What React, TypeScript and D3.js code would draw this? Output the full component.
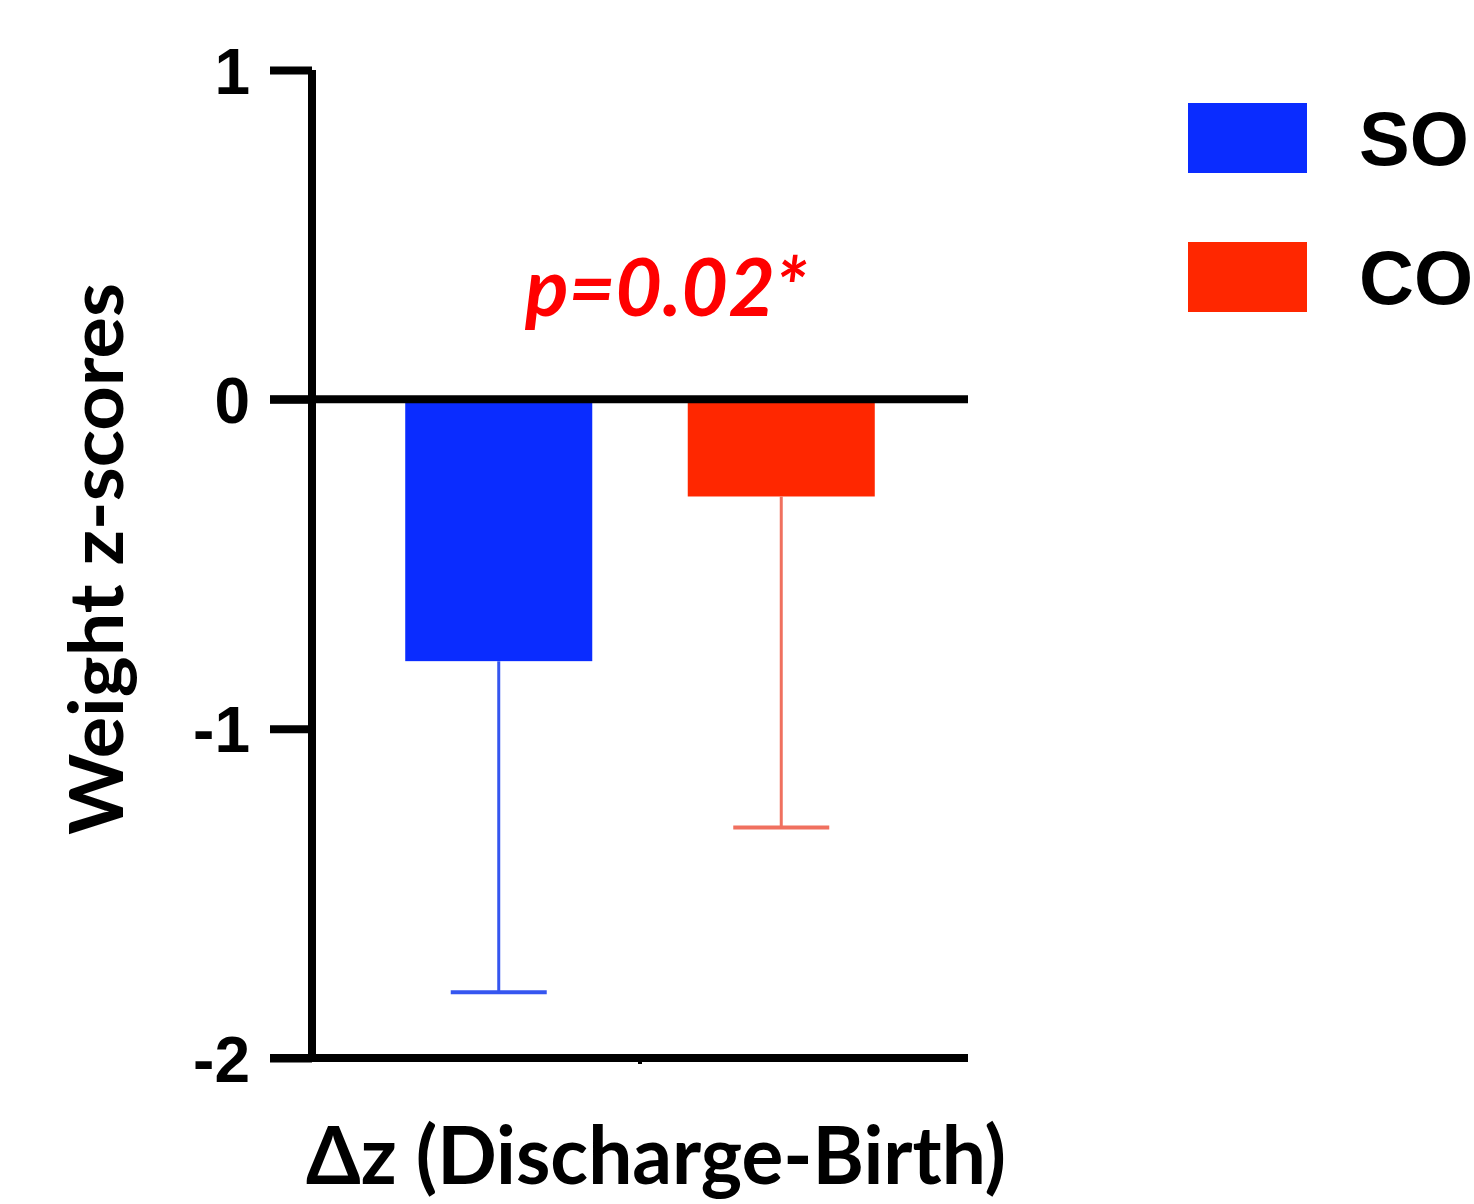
import React, { useEffect, useRef } from 'react';
import * as d3 from 'd3';

const width = 1474;
const height = 1204;

// data
const groups = ['SO', 'CO'];
const means = [-0.795, -0.295];
const lowerErr = [-1.80, -1.30];
const yTicks = [1, 0, -1, -2];
const barColors = ['#0a2cff', '#ff2700'];
const errColors = ['#3556f0', '#f0705f'];
const pLabel = 'p=0.02*';
const yTitle = 'Weight z-scores';
const xTitle = 'Δz (Discharge-Birth)';

const calibri = "Lato, 'Open Sans', sans-serif";
const arial = "'Liberation Sans', Arial, sans-serif";

const y = d3.scaleLinear().domain([-2, 1]).range([1058, 70]);
const x = d3.scaleBand<string>().domain(groups).range([312, 968])
  .paddingInner(0.338).paddingOuter(0.33);

export default function App() {
  const ref = useRef<SVGSVGElement>(null);

  useEffect(() => {
    const svg = d3.select(ref.current);
    svg.selectAll('*').remove();
    const bw = x.bandwidth();

    // bars
    svg.append('g').selectAll('rect').data(groups).join('rect')
      .attr('x', d => x(d)!)
      .attr('y', y(0))
      .attr('width', bw)
      .attr('height', (d, i) => y(means[i]) - y(0))
      .attr('fill', (d, i) => barColors[i]);

    // error bars (downward only)
    const eg = svg.append('g').selectAll('g').data(groups).join('g');
    eg.append('line')
      .attr('x1', d => x(d)! + bw / 2).attr('x2', d => x(d)! + bw / 2)
      .attr('y1', (d, i) => y(means[i])).attr('y2', (d, i) => y(lowerErr[i]))
      .attr('stroke', (d, i) => errColors[i]).attr('stroke-width', 3);
    eg.append('line')
      .attr('x1', d => x(d)! + bw / 2 - 48).attr('x2', d => x(d)! + bw / 2 + 48)
      .attr('y1', (d, i) => y(lowerErr[i])).attr('y2', (d, i) => y(lowerErr[i]))
      .attr('stroke', (d, i) => errColors[i]).attr('stroke-width', 4);

    // y axis
    const ax = svg.append('g').attr('transform', 'translate(312,0)')
      .call(d3.axisLeft(y).tickValues(yTicks).tickSize(42).tickPadding(20).tickFormat(d => String(d)));
    ax.select('.domain').attr('stroke', '#000').attr('stroke-width', 8)
      .attr('d', `M0,${y(1)}V${y(-2)}`);
    ax.selectAll('.tick line').attr('stroke', '#000').attr('stroke-width', 8);
    ax.selectAll('.tick text')
      .attr('font-family', arial).attr('font-weight', 700).attr('font-size', 64)
      .attr('fill', '#000').attr('dy', '0.36em');

    // zero line and bottom line
    [0, -2].forEach(v => {
      svg.append('line').attr('x1', 270).attr('x2', 968)
        .attr('y1', y(v)).attr('y2', y(v))
        .attr('stroke', '#000').attr('stroke-width', 8);
    });
    svg.append('line').attr('x1', 640).attr('x2', 640)
      .attr('y1', y(-2)).attr('y2', y(-2) + 6)
      .attr('stroke', '#000').attr('stroke-width', 4);

    // p value
    svg.append('text').attr('x', 525).attr('y', 316)
      .attr('font-family', calibri).attr('font-weight', 700).attr('font-style', 'italic')
      .attr('font-size', 80).attr('fill', '#ff0000')
      .attr('textLength', 282).attr('lengthAdjust', 'spacingAndGlyphs')
      .text(pLabel);

    // axis titles
    svg.append('text').attr('transform', 'translate(123,835) rotate(-90)')
      .attr('font-family', calibri).attr('font-weight', 700).attr('font-size', 74)
      .attr('textLength', 552).attr('lengthAdjust', 'spacingAndGlyphs')
      .text(yTitle);
    svg.append('text').attr('x', 306).attr('y', 1184)
      .attr('font-family', calibri).attr('font-weight', 700).attr('font-size', 80)
      .attr('textLength', 700).attr('lengthAdjust', 'spacingAndGlyphs')
      .text(xTitle);

    // legend
    const lg = svg.append('g').selectAll('g').data(groups).join('g')
      .attr('transform', (d, i) => `translate(1188,${103 + i * 139})`);
    lg.append('rect').attr('width', 119).attr('height', 70)
      .attr('fill', (d, i) => barColors[i]);
    lg.append('text').attr('x', 171).attr('y', 35).attr('dy', '0.36em')
      .attr('font-family', arial).attr('font-weight', 700).attr('font-size', 76)
      .text(d => d);
  }, []);

  return (
    <svg ref={ref} width={width} height={height}
      style={{ position: 'absolute', left: 0, top: 0, background: '#fff' }} />
  );
}
